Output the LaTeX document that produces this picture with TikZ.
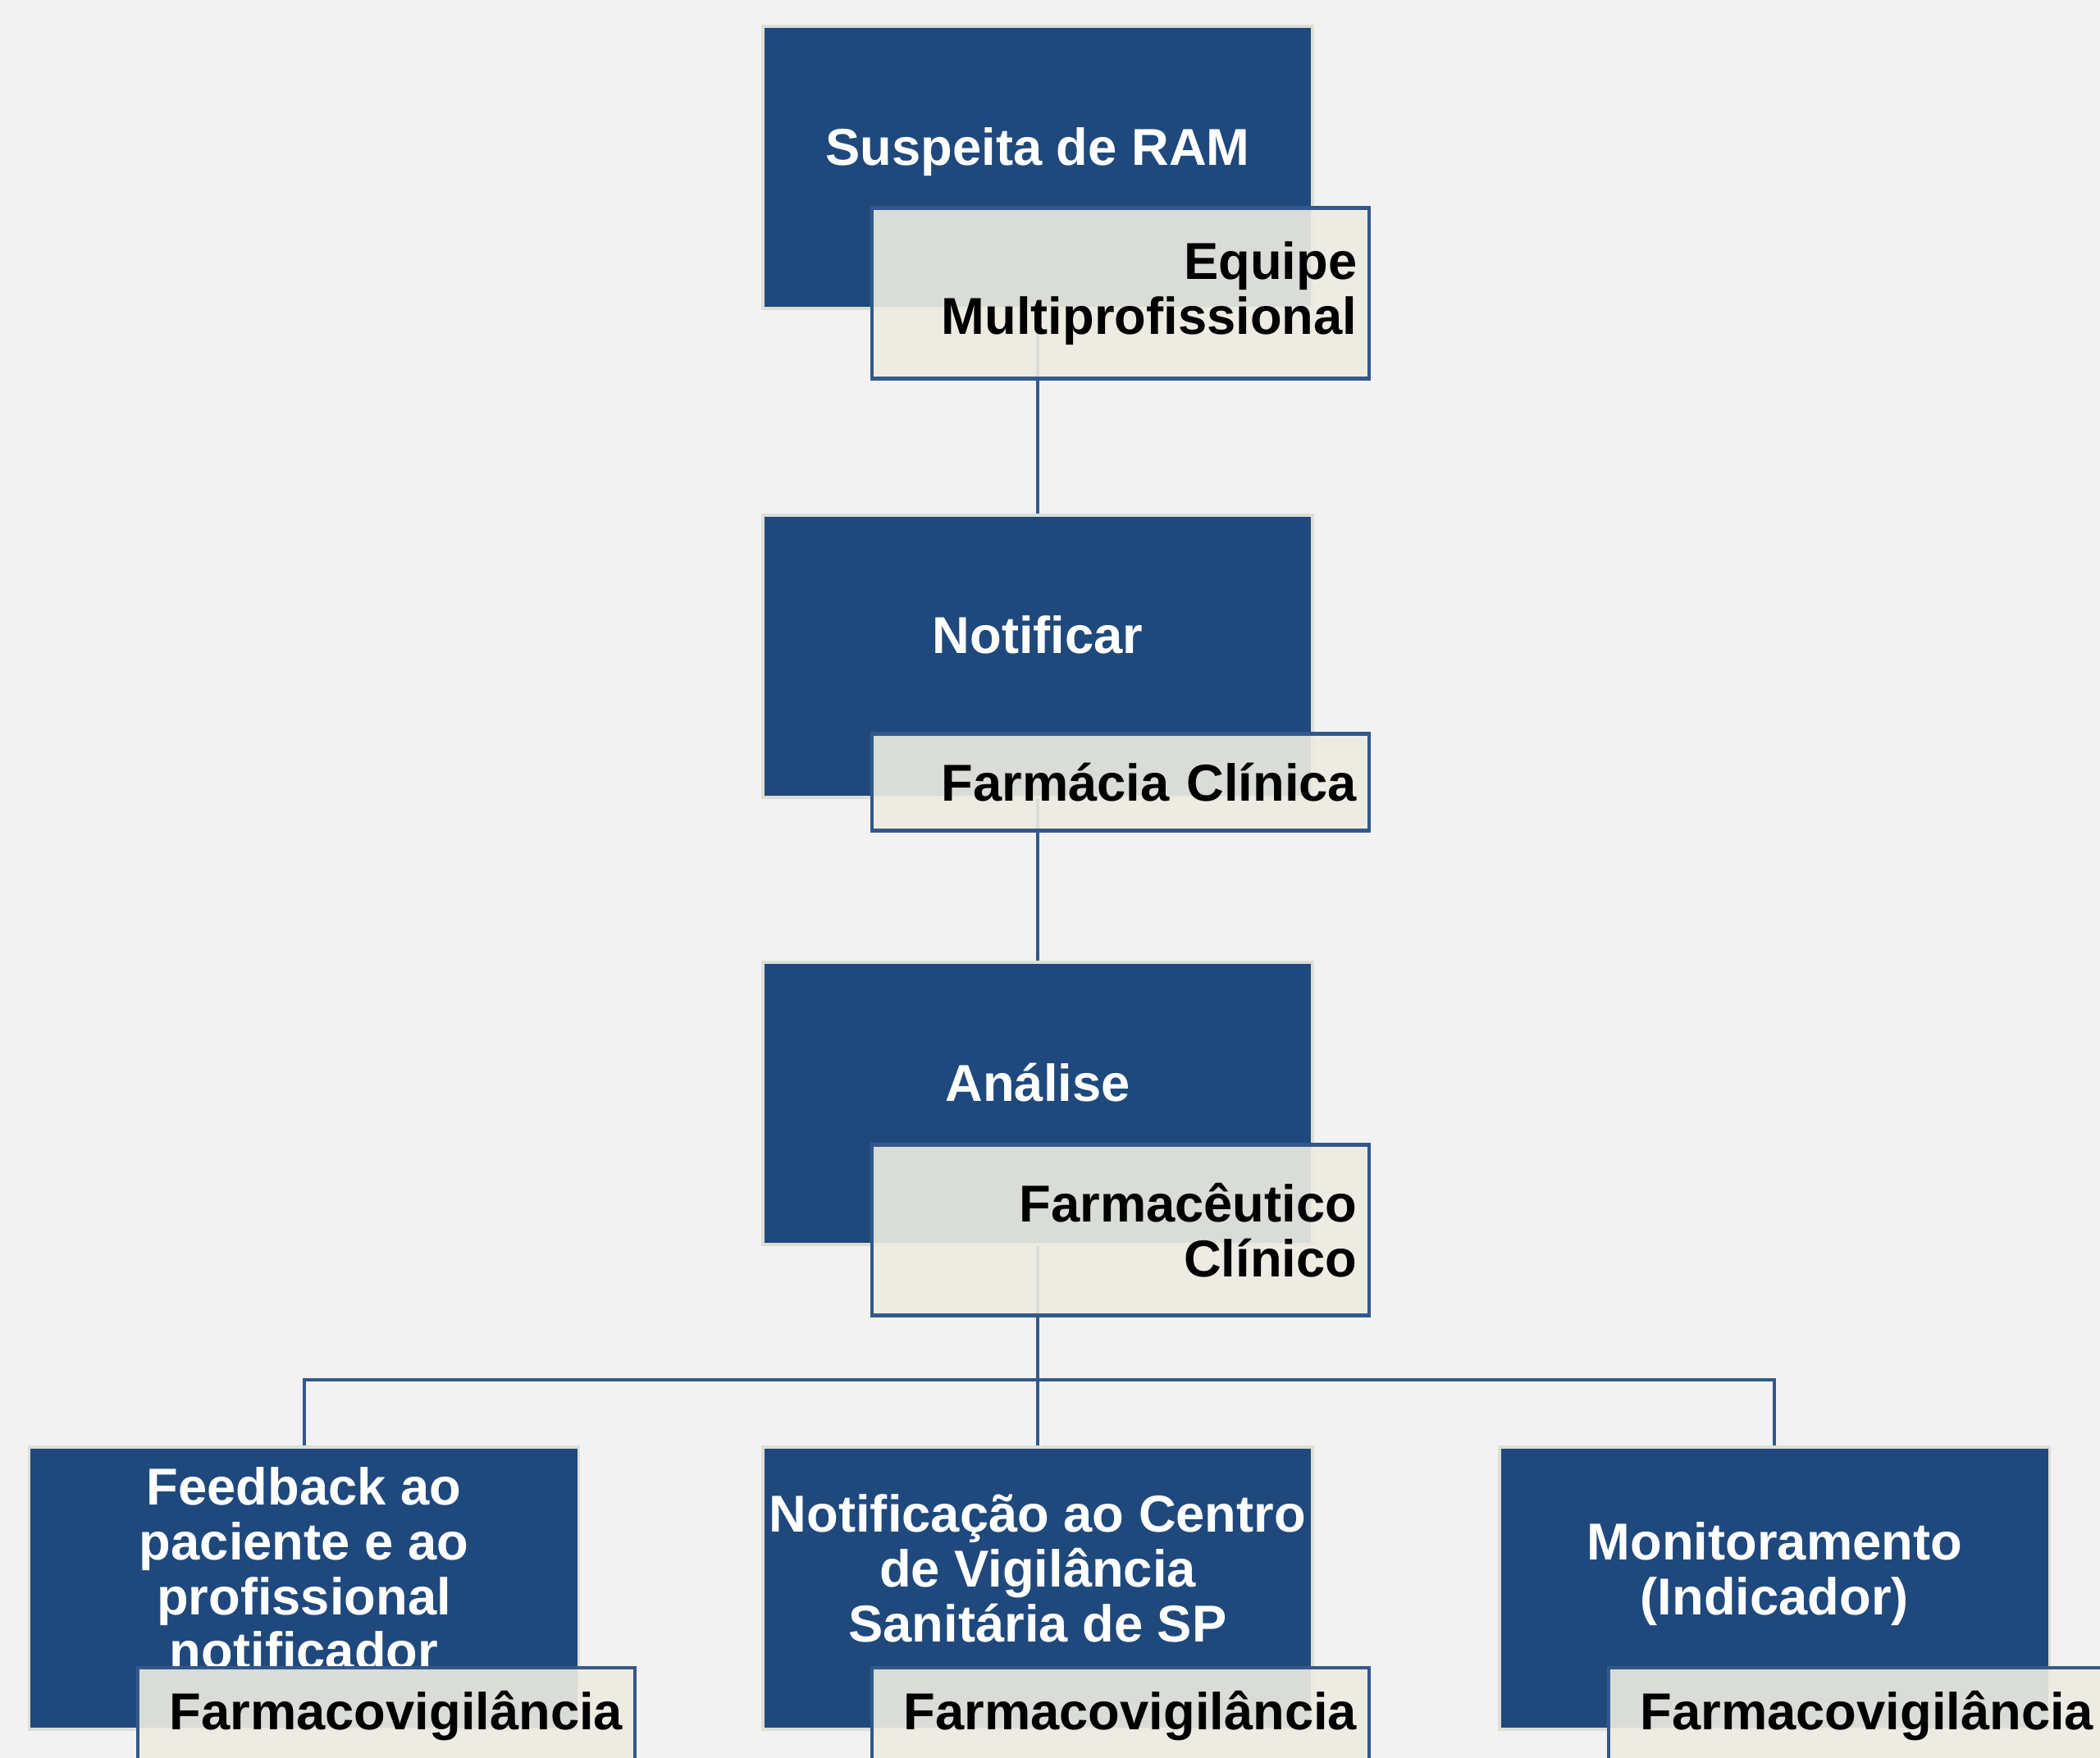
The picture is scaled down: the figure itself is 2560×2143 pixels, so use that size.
\documentclass[tikz,border=0pt]{standalone}
\usepackage{fontspec}
\setmainfont{Liberation Sans}
\begin{document}
\definecolor{bg}{RGB}{242,242,242}
\definecolor{boxblue}{RGB}{31,73,125}
\definecolor{cream}{RGB}{238,236,225}
\definecolor{lineblue}{RGB}{52,88,138}
\definecolor{boxedge}{RGB}{222,222,214}
\tikzset{
 mainbox/.style={rectangle, fill=boxblue, draw=boxedge, line width=0.035cm, minimum width=6.7cm, minimum height=3.44cm, inner sep=0pt},
 maintext/.style={text=white, font=\bfseries\fontsize{18}{19}\selectfont, align=center, inner sep=0pt},
 labelbox/.style={rectangle, fill=cream, fill opacity=0.9, text opacity=1, draw=lineblue, draw opacity=1, line width=0.042cm, text width=5.76cm, align=right, inner xsep=0.145cm, inner ysep=0pt, minimum height=1.18cm, font=\bfseries\fontsize{18}{19}\selectfont, text=black},
 tall/.style={minimum height=2.08cm},
 conn/.style={draw=lineblue, line width=0.04cm},
}
\begin{tikzpicture}[x=0.01cm,y=-0.01cm]
\useasboundingbox (0,0) rectangle (2560,2143);
\clip (0,0) rectangle (2560,2143);
\fill[bg] (0,0) rectangle (2560,2143);
% main boxes
\node[mainbox] (b1) at (1265,204) {};
\node[mainbox] (b2) at (1265,800) {};
\node[mainbox] (b3) at (1265,1345) {};
\node[mainbox] (b4) at (370.5,1936) {};
\node[mainbox] (b5) at (1265,1936) {};
\node[mainbox] (b6) at (2163.3,1936) {};
% main texts
\node[maintext] (t1) at (1265,185) {Suspeita de RAM};
\node[maintext] (t2) at (1265,774) {Notificar};
\node[maintext] (t3) at (1265,1320) {Análise};
\node[maintext] (t4) at (370.5,1912) {Feedback ao\\paciente e ao\\profissional\\notificador};
\node[maintext] (t5) at (1265,1912) {Notificação ao Centro\\de Vigilância\\Sanitária de SP};
\node[maintext] (t6) at (2163.3,1919) {Monitoramento\\(Indicador)};
% connectors
\coordinate (hy) at (0,1681.7);
\draw[conn] (b1.south) -- (b2.north);
\draw[conn] (b2.south) -- (b3.north);
\draw[conn] (b3.south) -- (b5.north);
\draw[conn] (b4.north) -- (b4.north |- hy) -- (b6.north |- hy) -- (b6.north);
% labels
\node[labelbox,tall] (l1) at (1366,357.5) {Equipe\\Multiprofissional};
\node[labelbox] (l2) at (1366,953.5) {Farmácia Clínica};
\node[labelbox,tall] (l3) at (1366,1499.5) {Farmacêutico\\Clínico};
\node[labelbox] (l4) at (471,2092) {Farmacovigilância};
\node[labelbox] (l5) at (1366,2092) {Farmacovigilância};
\node[labelbox] (l6) at (2264,2092) {Farmacovigilância};
\end{tikzpicture}
\end{document}
